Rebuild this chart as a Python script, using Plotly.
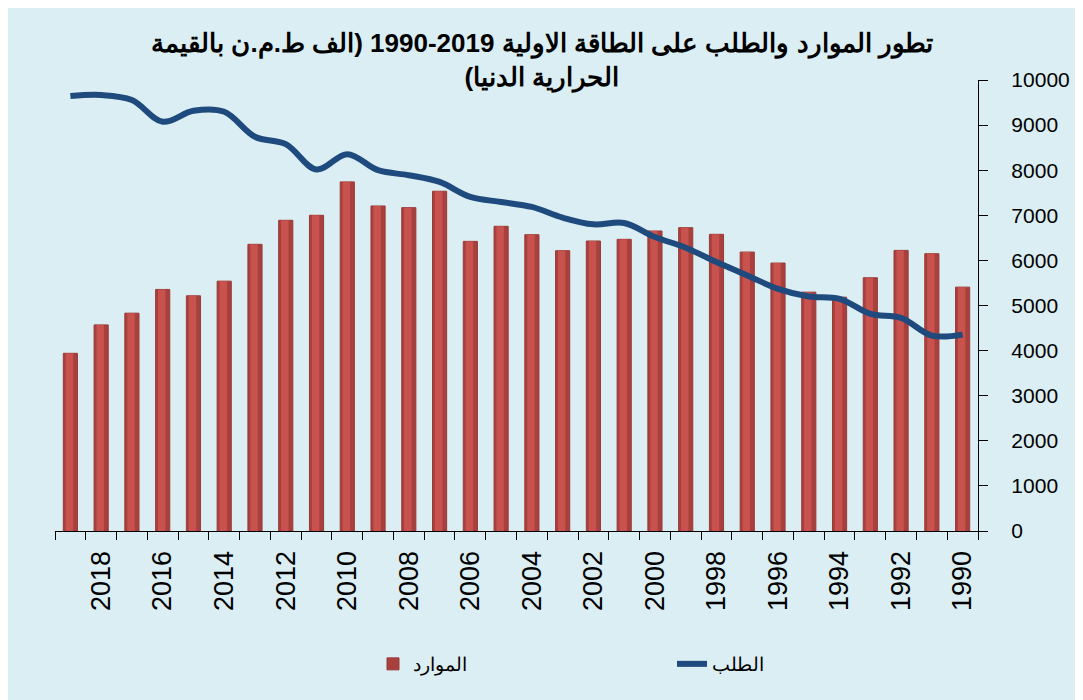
import plotly.graph_objects as go

years = list(range(2019, 1989, -1))
resources = [3940, 4570, 4830, 5356, 5215, 5540, 6356, 6889, 7000, 7741,
             7207, 7170, 7533, 6422, 6756, 6570, 6215, 6430, 6467, 6652,
             6726, 6578, 6185, 5941, 5296, 5185, 5615, 6222, 6148, 5407]
demand = [9644, 9667, 9555, 9074, 9318, 9296, 8741, 8578, 8015, 8356,
          8000, 7889, 7740, 7407, 7296, 7185, 6948, 6800, 6830, 6519,
          6282, 5963, 5667, 5370, 5200, 5148, 4815, 4726, 4333, 4355]
tick_years = [2018, 2016, 2014, 2012, 2010, 2008, 2006, 2004, 2002, 2000,
              1998, 1996, 1994, 1992, 1990]
y_ticks = [0, 1000, 2000, 3000, 4000, 5000, 6000, 7000, 8000, 9000, 10000]

name_res = "الموارد"
name_dem = "الطلب"
RLE, PDF = "\u202b", "\u202c"
title_l1 = "تطور الموارد والطلب على الطاقة الاولية 2019-1990 (الف ط.م.ن بالقيمة"
title_l2 = "الحرارية الدنيا)"

BG = "#DAEEF3"
FONT = "Liberation Sans, Arial, sans-serif"

fig = go.Figure()
fig.add_trace(go.Bar(
    x=years, y=resources, name=name_res, width=0.46,
    marker=dict(color="#A8403D", line=dict(color="#9A3A37", width=1)),
    showlegend=True,
))
fig.add_trace(go.Bar(
    x=years, y=resources, name=name_res, width=0.24, offset=-0.09,
    marker=dict(color="#C8524E", line=dict(width=0)),
    showlegend=False, hoverinfo="skip",
))
fig.add_trace(go.Scatter(
    x=years, y=demand, name=name_dem, mode="lines",
    line=dict(color="#1F4A7E", width=6, shape="spline", smoothing=1.0),
))

fig.update_layout(
    width=1083, height=700,
    paper_bgcolor=BG, plot_bgcolor=BG,
    margin=dict(l=47, r=113, t=72, b=177, autoexpand=False),
    barmode="overlay",
    font=dict(family=FONT, color="black"),
    title=dict(
        text="<b>" + RLE + title_l1 + PDF + "<br>" + RLE + title_l2 + PDF + "</b>",
        x=534 / 1083, xref="container", xanchor="center",
        y=1 - 44 / 700, yref="container", yanchor="top",
        font=dict(size=26, family=FONT, color="black"),
    ),
    legend=dict(
        orientation="h", x=365 / 1083, xref="container", xanchor="left",
        y=(700 - 656) / 700, yref="container", yanchor="middle",
        entrywidth=254, entrywidthmode="pixels",
        font=dict(size=19, family=FONT),
        bgcolor="rgba(0,0,0,0)", traceorder="normal",
    ),
    xaxis=dict(
        range=[2019.5, 1989.5], automargin=False,
        tickmode="array", tickvals=tick_years, ticktext=[str(t) for t in tick_years],
        tickangle=-90, ticks="",
        tickfont=dict(size=27, family=FONT),
        ticklabelstandoff=8,
        showline=True, linecolor="black", linewidth=1.3,
        showgrid=False, zeroline=False,
        minor=dict(tick0=1989.5, dtick=1, ticks="outside", ticklen=8,
                   tickwidth=1.3, tickcolor="black", showgrid=False),
    ),
    yaxis=dict(
        range=[0, 10000], side="right", automargin=False,
        tickmode="array", tickvals=y_ticks, ticktext=[str(v) for v in y_ticks],
        ticks="outside", ticklen=9, tickwidth=1.3, tickcolor="black",
        tickfont=dict(size=21, family=FONT),
        ticklabelstandoff=19,
        showline=True, linecolor="black", linewidth=1.3,
        showgrid=False, zeroline=False,
    ),
)

fig.write_html("out.html")
